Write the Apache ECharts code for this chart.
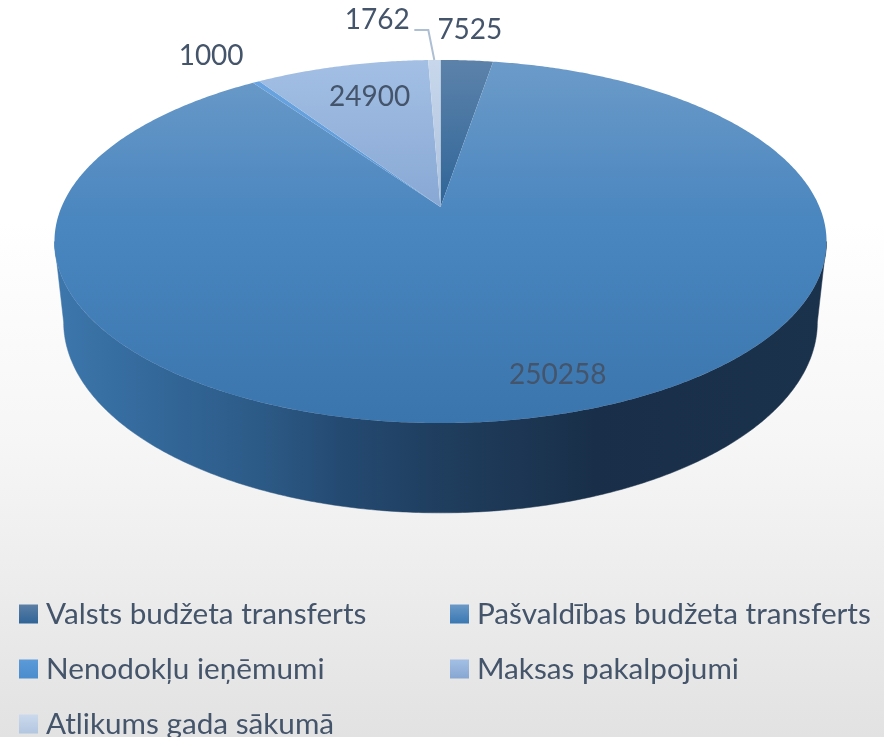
<!DOCTYPE html>
<html><head><meta charset="utf-8">
<style>html,body{margin:0;padding:0;background:#fff}#c{width:884px;height:737px}</style>
<script src="https://cdn.jsdelivr.net/npm/echarts@6/dist/echarts.min.js"></script>
</head><body><div id="c"></div>
<script>
const categories = ['Valsts budžeta transferts','Pašvaldības budžeta transferts','Nenodokļu ieņēmumi','Maksas pakalpojumi','Atlikums gada sākumā'];
const values = [7525, 250258, 1000, 24900, 1762];

const FONT = 'Lato';
const TEXT = '#44546a';
// perspective projection of the pie disc: top face and bottom face
const K = 0.19;
const TOP = {cx:440.5, cy:207, a:379, b:175};
const BOT = {cx:440.5, cy:285.7, a:370, b:184};
const LABEL_OFFSET = [[3,-30],[15,-42],[-45,-26],[28,31],[-57,-40]];
const TOP_COLORS = [
  [[60,'#5c82aa'],[207,'#2f6598']],
  [[60,'#6c9bc9'],[220,'#4a86bf'],[423,'#3a75ae']],
  [[60,'#6ba6e2'],[207,'#5b98d6']],
  [[60,'#a3bfe4'],[207,'#88a8d4']],
  [[60,'#c8d7eb'],[207,'#aec2de']]
];
const LEGEND_COLORS = [['#5c7fa6','#2f6497'],['#6a99c8','#3a78b2'],['#5c9ad9','#4a8ccd'],['#a3bfe4','#86a6d2'],['#cbd9ec','#b2c6e0']];
const LEGEND_POS = [[19,599],[450,599],[19,654],[450,654],[19,709]];
const WALL_STOPS = [[0,'#3d77ac'],[0.13,'#33689a'],[0.27,'#2c5a86'],[0.37,'#244a72'],[0.51,'#1f3d5d'],[0.7,'#192f49'],[1,'#1b324c']];

const total = values.reduce((a,b)=>a+b,0);
const starts = [];
values.reduce((acc,v,i)=>{starts[i]=acc;return acc+v/total*360;},0);

function proj(face, deg, r){
  const t = deg*Math.PI/180, u = r*Math.sin(t), v = -r*Math.cos(t), w = 1-K*v;
  return [face.cx+face.a*u/w, face.cy+face.b*v/w];
}
function arc(face, from, to){
  const pts=[], n=Math.max(2,Math.ceil(Math.abs(to-from)/0.5));
  for(let i=0;i<=n;i++) pts.push(proj(face, from+(to-from)*i/n, 1));
  return pts;
}
const WALL_A = Math.acos(-K)*180/Math.PI, WALL_B = 360-WALL_A;
function vGrad(stops){
  const y0=stops[0][0], y1=stops[stops.length-1][0];
  return new echarts.graphic.LinearGradient(0,y0,0,y1,stops.map(s=>({offset:(s[0]-y0)/(y1-y0),color:s[1]})),true);
}
const wallGrad = new echarts.graphic.LinearGradient(54,0,826,0,WALL_STOPS.map(s=>({offset:s[0],color:s[1]})),true);

function render(i){
  return function(params, api){
    const span = api.value(0)/total*360, s = starts[i], e = s+span, mid = s+span/2;
    const children = [];
    const a = Math.max(s,WALL_A), b = Math.min(e,WALL_B);
    if(b>a){
      children.push({type:'polygon',silent:true,shape:{points:arc(TOP,a,b).concat(arc(BOT,a,b).reverse())},style:{fill:wallGrad,stroke:wallGrad,lineWidth:0.5}});
    }
    children.push({type:'polygon',shape:{points:[[TOP.cx,TOP.cy]].concat(arc(TOP,s,e))},style:{fill:vGrad(TOP_COLORS[i])}});
    const rim = proj(TOP, mid, 1), off = LABEL_OFFSET[i];
    if(i===4){
      children.push({type:'polyline',shape:{points:[rim,[rim[0]-6,rim[1]-30],[rim[0]-20,rim[1]-30]]},style:{stroke:'#aebfd4',lineWidth:2,fill:null}});
    }
    children.push({type:'text',z2:10,style:{text:String(api.value(0)),x:rim[0]+off[0],y:rim[1]+off[1],align:'center',verticalAlign:'middle',fill:TEXT,fontFamily:FONT,fontSize:28}});
    return {type:'group',children};
  };
}

const chart = echarts.init(document.getElementById('c'),null,{width:884,height:737});
chart.setOption({
  animation:false,
  backgroundColor:new echarts.graphic.LinearGradient(0,0,0,1,[{offset:0,color:'#ffffff'},{offset:0.3,color:'#ffffff'},{offset:0.6,color:'#f6f6f6'},{offset:0.72,color:'#f0f0f0'},{offset:1,color:'#e2e2e2'}]),
  legend:categories.map((n,i)=>({
    data:[{name:n,icon:'rect',itemStyle:{color:new echarts.graphic.LinearGradient(0,0,0,1,[{offset:0,color:LEGEND_COLORS[i][0]},{offset:1,color:LEGEND_COLORS[i][1]}]),borderWidth:0}}],
    left:LEGEND_POS[i][0],top:LEGEND_POS[i][1],padding:0,itemWidth:19,itemHeight:19,itemGap:0,selectedMode:false,
    textStyle:{fontFamily:FONT,fontSize:29.7,lineHeight:19,color:TEXT,padding:[0,0,0,3]}
  })),
  series:categories.map((n,i)=>({
    type:'custom',name:n,coordinateSystem:'none',silent:true,
    itemStyle:{color:LEGEND_COLORS[i][1]},
    data:[[values[i]]],
    renderItem:render(i)
  }))
});
</script></body></html>
